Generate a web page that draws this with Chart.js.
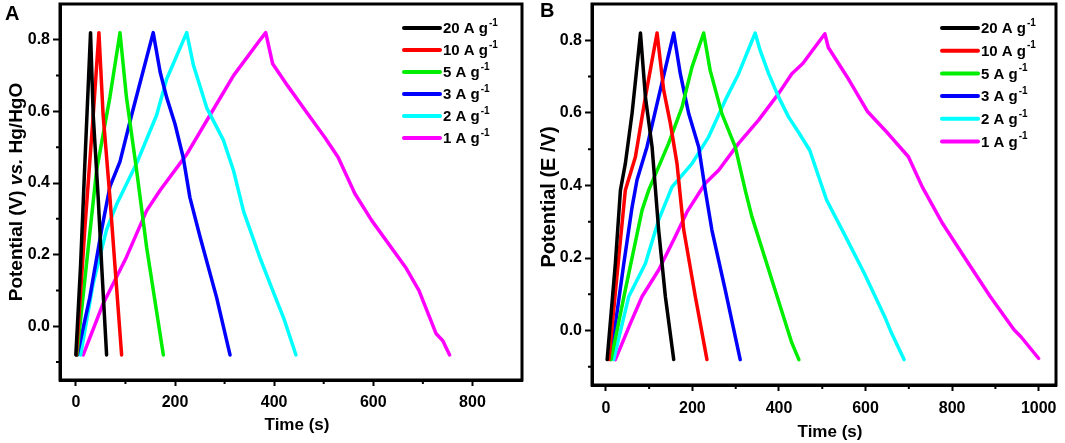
<!DOCTYPE html>
<html>
<head>
<meta charset="utf-8">
<script src="https://cdn.jsdelivr.net/npm/chart.js@4.4.1/dist/chart.umd.min.js"></script>
<style>
  body { margin: 0; background: #fff; }
  #wrap { position: relative; width: 1065px; height: 443px; }
  canvas { position: absolute; top: 0; }
  #chartA { left: 0; }
  #chartB { left: 530px; }
</style>
</head>
<body>
<div id="wrap">
  <canvas id="chartA" width="530" height="443"></canvas>
  <canvas id="chartB" width="535" height="443"></canvas>
</div>
<script>
// current densities, legend order
const RATES = ['20', '10', '5', '3', '2', '1'];
const COLORS = ['#000000', '#ff0000', '#00ee00', '#0000ff', '#00ffff', '#ff00ff'];

// tick values
const Y_TICKS = [0, 0.2, 0.4, 0.6, 0.8];
const Y_MINOR = [-0.1, 0.1, 0.3, 0.5, 0.7];
const XA_TICKS = [0, 200, 400, 600, 800];
const XA_MINOR = [100, 300, 500, 700];
const XB_TICKS = [0, 200, 400, 600, 800, 1000];
const XB_MINOR = [100, 300, 500, 700, 900];

// panel A: [time (s), potential (V)]
const A_20 = [[0, -0.08], [9.5, 0.17], [18, 0.45], [29.6, 0.82], [35, 0.59], [45, 0.36], [52, 0.17], [62, -0.08]];
const A_10 = [[1, -0.08], [18, 0.27], [35, 0.59], [46.5, 0.82], [55, 0.59], [68.7, 0.36], [78.8, 0.17], [92.3, -0.08]];
const A_5 = [[2, -0.08], [25, 0.22], [41.8, 0.435], [68.7, 0.64], [89, 0.82], [102, 0.64], [122.6, 0.435], [142.8, 0.22], [176.5, -0.08]];
const A_3 = [[3, -0.08], [28, 0.08], [52, 0.27], [68.7, 0.39], [89, 0.46], [112.5, 0.59], [156, 0.82], [170, 0.71],
  [183, 0.64], [200, 0.565], [216.8, 0.47], [230, 0.36], [250.5, 0.25], [284, 0.08], [311, -0.08]];
const A_2 = [[9.5, -0.08], [35, 0.12], [62, 0.27], [82, 0.34], [122.6, 0.455], [163, 0.59], [183, 0.69], [223.6, 0.82],
  [237, 0.73], [264, 0.61], [297.6, 0.52], [318, 0.435], [338.5, 0.32], [371.7, 0.19], [400, 0.09], [420, 0.02], [444, -0.08]];
const A_1 = [[14.8, -0.08], [55, 0.063], [102, 0.193], [142.8, 0.323], [170, 0.38], [223.6, 0.48], [270.7, 0.59], [318, 0.7],
  [371.7, 0.8], [383, 0.82], [397, 0.733], [427, 0.672], [468, 0.593], [502, 0.528], [529, 0.472], [563, 0.37], [597, 0.295],
  [665, 0.165], [692, 0.1], [726.5, -0.02], [740, -0.04], [754, -0.08]];

// panel B: [time (s), potential (V)]
const B_20 = [[3, -0.08], [22, 0.185], [33.7, 0.387], [45, 0.46], [60.7, 0.6], [80, 0.82], [91.4, 0.644], [106.8, 0.506],
  [122, 0.277], [137.5, 0.094], [156.8, -0.08]];
const B_10 = [[7, -0.08], [30, 0.204], [45, 0.387], [68.4, 0.479], [91.4, 0.644], [118.3, 0.82], [133.7, 0.662], [149, 0.571],
  [164.4, 0.46], [180, 0.277], [206.7, 0.094], [233.6, -0.08]];
const B_5 = [[12, -0.08], [45, 0.112], [83.7, 0.332], [99, 0.387], [145, 0.516], [176, 0.616], [199, 0.726], [226, 0.82],
  [241, 0.717], [268, 0.598], [299, 0.506], [322, 0.387], [337.4, 0.314], [383.5, 0.14], [429.7, -0.034], [446, -0.08]];
const B_3 = [[10.7, -0.08], [41.5, 0.185], [60.7, 0.341], [72, 0.415], [95, 0.506], [122, 0.644], [156.8, 0.82], [172, 0.708],
  [191.4, 0.598], [214.5, 0.506], [229.7, 0.387], [245, 0.277], [275.8, 0.112], [310.4, -0.08]];
const B_2 = [[18, -0.08], [53, 0.094], [91.4, 0.185], [122, 0.305], [153, 0.396], [199, 0.46], [237.5, 0.534], [276, 0.635],
  [306.7, 0.708], [345, 0.82], [356.5, 0.772], [376, 0.708], [399, 0.644], [422, 0.589], [447, 0.543], [471, 0.497],
  [510, 0.36], [550, 0.268], [597, 0.158], [644, 0.039], [660, -0.007], [689, -0.08]];
const B_1 = [[22, -0.08], [56.7, 0.02], [83.7, 0.094], [122, 0.167], [160.5, 0.259], [187.5, 0.327], [229.7, 0.406],
  [260.6, 0.442], [306.7, 0.516], [352.8, 0.58], [399, 0.653], [429.7, 0.708], [455, 0.736], [506, 0.818], [514, 0.78],
  [557.5, 0.699], [605, 0.603], [652, 0.543], [699, 0.479], [731, 0.396], [778, 0.295], [833, 0.194], [888, 0.094],
  [943, 0.002], [959, -0.017], [1000, -0.077]];

const FONT = '"Liberation Sans", Arial, sans-serif';
Chart.defaults.font.family = FONT;
Chart.defaults.color = '#000';

// frame, minor ticks, titles, legend
function decor(p) {
  return {
    id: 'decor',
    afterDraw(chart) {
      const {ctx, chartArea: a, scales: {x, y}} = chart;
      ctx.save();
      ctx.strokeStyle = '#000';
      ctx.lineWidth = 3;
      ctx.strokeRect(a.left, a.top, a.right - a.left, a.bottom - a.top);

      ctx.lineWidth = 2;
      ctx.beginPath();
      p.xMinor.forEach(v => {
        const px = x.getPixelForValue(v);
        ctx.moveTo(px, a.bottom);
        ctx.lineTo(px, a.bottom + 4);
      });
      p.yMinor.forEach(v => {
        const py = y.getPixelForValue(v);
        ctx.moveTo(a.left, py);
        ctx.lineTo(a.left - 4, py);
      });
      ctx.stroke();

      ctx.fillStyle = '#000';
      // panel letter
      ctx.font = 'bold 20px ' + FONT;
      ctx.textBaseline = 'alphabetic';
      ctx.textAlign = 'left';
      ctx.fillText(p.letter, p.letterX, p.letterY);

      // x title
      ctx.font = 'bold 17px ' + FONT;
      ctx.textAlign = 'center';
      ctx.textBaseline = 'middle';
      ctx.fillText('Time (s)', p.xTitleX, p.xTitleY);

      // y title (mixed italic)
      ctx.save();
      ctx.translate(p.yTitleX, p.yTitleY);
      ctx.rotate(-Math.PI / 2);
      ctx.textAlign = 'left';
      const fonts = p.yTitle.map(([, it]) => (it ? 'italic ' : '') + 'bold ' + p.yTitleSize + 'px ' + FONT);
      let total = 0;
      const widths = p.yTitle.map(([t], i) => { ctx.font = fonts[i]; const w = ctx.measureText(t).width; total += w; return w; });
      let cx = -total / 2;
      p.yTitle.forEach(([t], i) => { ctx.font = fonts[i]; ctx.fillText(t, cx, 0); cx += widths[i]; });
      ctx.restore();

      // legend
      chart.data.datasets.forEach((ds, i) => {
        const ly = p.legY + i * p.legStep;
        ctx.strokeStyle = ds.borderColor;
        ctx.lineWidth = 4;
        ctx.lineCap = 'round';
        ctx.beginPath();
        ctx.moveTo(p.legX + 1, ly);
        ctx.lineTo(p.legX + 37, ly);
        ctx.stroke();
        ctx.textAlign = 'left';
        ctx.textBaseline = 'middle';
        ctx.font = 'bold 15px ' + FONT;
        ctx.fillText(ds.label, p.legX + 40, ly + 1);
        const w = ctx.measureText(ds.label).width;
        ctx.font = 'bold 10px ' + FONT;
        ctx.fillText('-1', p.legX + 40 + w + 1, ly - 5);
      });
      ctx.restore();
    }
  };
}

function makeChart(id, p) {
  const tickGrid = {display: true, drawOnChartArea: false, drawTicks: true, tickLength: 6, tickWidth: 2, tickColor: '#000'};
  new Chart(document.getElementById(id), {
    type: 'line',
    data: {
      datasets: p.series.map((pts, i) => ({
        label: RATES[i] + ' A g',
        data: pts.map(([t, v]) => ({x: t, y: v})),
        borderColor: COLORS[i],
        borderWidth: 3.5,
        borderJoinStyle: 'round',
        borderCapStyle: 'round',
        pointRadius: 0,
        fill: false,
        tension: 0
      }))
    },
    options: {
      responsive: false,
      animation: false,
      layout: {padding: {top: 4, right: p.padRight, left: 0, bottom: 0}},
      plugins: {legend: {display: false}, tooltip: {enabled: false}},
      scales: {
        x: {
          type: 'linear',
          min: p.xMin,
          max: p.xMax,
          afterBuildTicks: s => { s.ticks = p.xTicks.map(v => ({value: v})); },
          afterFit: s => { s.height = p.xHeight; s.paddingLeft = 0; s.paddingRight = 0; },
          ticks: {font: {size: 16, weight: 'bold'}, padding: p.xPad, maxRotation: 0, autoSkip: false,
            callback: v => String(v)},
          grid: tickGrid,
          border: {display: true, color: '#000', width: 3}
        },
        y: {
          min: -0.15,
          max: 0.9,
          afterBuildTicks: s => { s.ticks = Y_TICKS.map(v => ({value: v})); },
          afterFit: s => { s.width = p.yWidth; s.paddingTop = 0; s.paddingBottom = 0; },
          ticks: {font: {size: 16, weight: 'bold'}, padding: p.yPad, autoSkip: false,
            callback: v => v.toFixed(1)},
          grid: Object.assign({}, tickGrid, {tickLength: 7}),
          border: {display: true, color: '#000', width: 3}
        }
      }
    },
    plugins: [decor(p)]
  });
}

makeChart('chartA', {
  series: [A_20, A_10, A_5, A_3, A_2, A_1],
  xMin: -32, xMax: 900, xTicks: XA_TICKS, xMinor: XA_MINOR, yMinor: Y_MINOR,
  padRight: 8, xHeight: 63, yWidth: 60, xPad: 7, yPad: 3,
  letter: 'A', letterX: 5, letterY: 20,
  xTitleX: 297, xTitleY: 425,
  yTitle: [['Potential (V) ', false], ['vs.', true], [' Hg/HgO', false]], yTitleSize: 19, yTitleX: 17, yTitleY: 192,
  legX: 403, legY: 28, legStep: 22
});

makeChart('chartB', {
  series: [B_20, B_10, B_5, B_3, B_2, B_1],
  xMin: -32, xMax: 1040, xTicks: XB_TICKS, xMinor: XB_MINOR, yMinor: Y_MINOR,
  padRight: 9, xHeight: 58, yWidth: 62, xPad: 8, yPad: 3,
  letter: 'B', letterX: 10, letterY: 17,
  xTitleX: 300, xTitleY: 432,
  yTitle: [['Potential (E /V)', false]], yTitleSize: 20, yTitleX: 19, yTitleY: 197,
  legX: 411, legY: 28, legStep: 22.7
});
</script>
</body>
</html>
